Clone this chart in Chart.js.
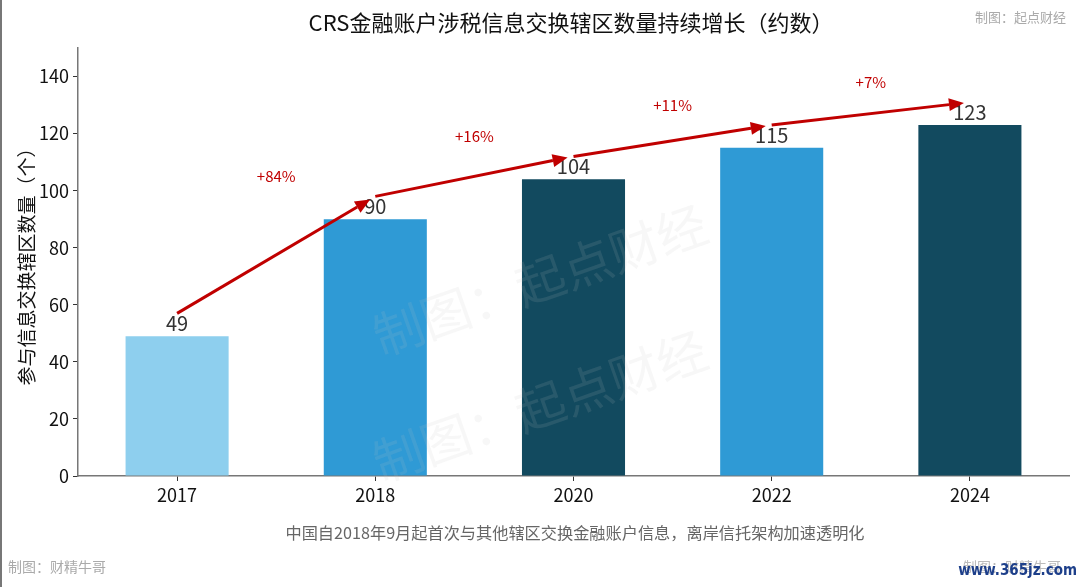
<!DOCTYPE html>
<html lang="zh">
<head>
<meta charset="UTF-8">
<title>CRS金融账户涉税信息交换辖区数量</title>
<script src="https://cdn.jsdelivr.net/npm/chart.js"></script>
<style>
  html, body { margin: 0; padding: 0; background: #fff; }
  #wrap { position: relative; width: 1080px; height: 587px; box-sizing: border-box; border-left: 2px solid #777; }
  canvas { display: block; }
</style>
</head>
<body>
<div id="wrap">
  <canvas id="crsChart" width="1078" height="587"></canvas>
</div>

<script>
// Data
const years = ['2017', '2018', '2020', '2022', '2024'];
const jurisdictions = [49, 90, 104, 115, 123];
const growthLabels = ['+84%', '+16%', '+11%', '+7%'];
const barColors = ['#8ecfee', '#2f9ad5', '#124a5f', '#2f9ad5', '#124a5f'];
const yTicks = [0, 20, 40, 60, 80, 100, 120, 140];

const FONT = '"Noto Sans CJK SC", "Noto Sans", sans-serif';
const RED = '#c00000';

// Draws titles, notes, value labels, arrows and watermarks
const overlay = {
  id: 'overlay',
  afterDatasetsDraw(chart) {
    const ctx = chart.ctx;
    const x = chart.scales.x;
    const y = chart.scales.y;
    const meta = chart.getDatasetMeta(0);

    ctx.save();

    // faint watermarks
    ctx.fillStyle = 'rgba(190,190,190,0.13)';
    ctx.font = '50px ' + FONT;
    ctx.textAlign = 'center';
    ctx.textBaseline = 'middle';
    [[538, 280], [538, 406]].forEach(p => {
      ctx.save();
      ctx.translate(p[0], p[1]);
      ctx.rotate(-0.34);
      ctx.fillText('制图：起点财经', 0, 0);
      ctx.restore();
    });

    // value labels
    ctx.fillStyle = '#333';
    ctx.font = '20px ' + FONT;
    ctx.textAlign = 'center';
    ctx.textBaseline = 'alphabetic';
    meta.data.forEach((bar, i) => {
      ctx.fillText(String(jurisdictions[i]), bar.x, bar.y - 5);
    });

    // growth arrows
    ctx.strokeStyle = RED;
    ctx.fillStyle = RED;
    ctx.lineWidth = 3;
    for (let i = 0; i < jurisdictions.length - 1; i++) {
      const x0 = x.getPixelForValue(i);
      const y0 = y.getPixelForValue(jurisdictions[i] + 8);
      let x1 = x.getPixelForValue(i + 1);
      let y1 = y.getPixelForValue(jurisdictions[i + 1] + 8);
      const ang = Math.atan2(y1 - y0, x1 - x0);
      x1 -= Math.cos(ang) * 6;
      y1 -= Math.sin(ang) * 6;
      const headLen = 15, headW = 6.5;
      const bx = x1 - Math.cos(ang) * headLen;
      const by = y1 - Math.sin(ang) * headLen;
      ctx.beginPath();
      ctx.moveTo(x0, y0);
      ctx.lineTo(bx, by);
      ctx.stroke();
      ctx.beginPath();
      ctx.moveTo(x1, y1);
      ctx.lineTo(bx + Math.sin(ang) * headW, by - Math.cos(ang) * headW);
      ctx.lineTo(bx - Math.sin(ang) * headW, by + Math.cos(ang) * headW);
      ctx.closePath();
      ctx.fill();

      ctx.font = '15px ' + FONT;
      ctx.textBaseline = 'middle';
      ctx.fillText(growthLabels[i], (x0 + x.getPixelForValue(i + 1)) / 2,
        y.getPixelForValue(jurisdictions[i + 1] + 15));
    }

    // title
    ctx.fillStyle = '#111';
    ctx.font = '22px ' + FONT;
    ctx.textAlign = 'center';
    ctx.fillText('CRS金融账户涉税信息交换辖区数量持续增长（约数）', 569, 23);

    // credits and caption
    ctx.fillStyle = '#aaa';
    ctx.font = '13px ' + FONT;
    ctx.textAlign = 'right';
    ctx.fillText('制图：起点财经', 1064, 17);
    ctx.textAlign = 'left';
    ctx.font = '14px ' + FONT;
    ctx.fillText('制图：财精牛哥', 6, 567);
    ctx.fillStyle = '#bbb';
    ctx.fillText('制图：财精牛哥', 961, 567);

    ctx.fillStyle = '#666';
    ctx.font = '16.2px ' + FONT;
    ctx.textAlign = 'center';
    ctx.fillText('中国自2018年9月起首次与其他辖区交换金融账户信息，离岸信托架构加速透明化', 573, 533);

    ctx.fillStyle = '#1d3f8a';
    ctx.font = 'bold 15px "DejaVu Sans Condensed", ' + FONT;
    ctx.textAlign = 'right';
    ctx.fillText('www.365jz.com', 1075, 571);

    ctx.restore();
  }
};

new Chart(document.getElementById('crsChart'), {
  type: 'bar',
  data: {
    labels: years,
    datasets: [{
      data: jurisdictions,
      backgroundColor: barColors,
      borderWidth: 0,
      barPercentage: 0.52,
      categoryPercentage: 1
    }]
  },
  options: {
    responsive: false,
    animation: false,
    layout: { padding: { left: 0, top: 48, right: 11, bottom: 0 } },
    plugins: {
      legend: { display: false },
      tooltip: { enabled: false },
      title: { display: false }
    },
    scales: {
      x: {
        grid: { display: true, offset: false, drawOnChartArea: false, drawTicks: true, tickLength: 5, tickColor: '#333' },
        border: { display: true, color: '#777', width: 1.5 },
        ticks: { color: '#111', font: { size: 18, family: FONT }, padding: 3 },
        afterFit: s => { s.height = 111; }
      },
      y: {
        min: 0,
        max: 150,
        grid: { display: true, drawOnChartArea: false, drawTicks: true, tickLength: 5, tickColor: '#333' },
        border: { display: true, color: '#777', width: 1.5 },
        ticks: { color: '#111', font: { size: 18, family: FONT }, padding: 4, stepSize: 20 },
        afterBuildTicks: s => { s.ticks = yTicks.map(v => ({ value: v })); },
        title: {
          display: true,
          text: '参与信息交换辖区数量（个）',
          color: '#111',
          font: { size: 19, family: FONT },
          padding: { top: 13, bottom: 0 }
        },
        afterFit: s => { s.width = 76; }
      }
    }
  },
  plugins: [overlay]
});
</script>
</body>
</html>
